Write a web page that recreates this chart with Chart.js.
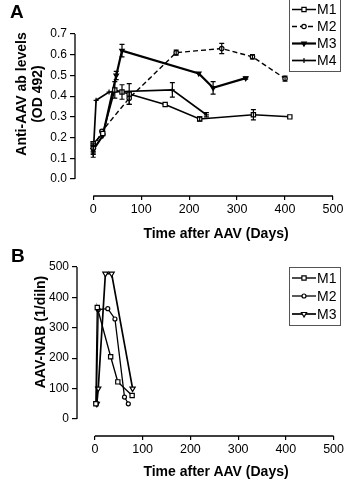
<!DOCTYPE html>
<html>
<head>
<meta charset="utf-8">
<script src="https://cdn.jsdelivr.net/npm/chart.js@4.4.1/dist/chart.umd.min.js"></script>
<style>
	body { margin: 0; background: #fff; font-family: "Liberation Sans", Arial, sans-serif; color: #000; }
	#wrap { position: relative; width: 346px; height: 482px; overflow: hidden; }
	#panelA { position: absolute; left: 0; top: 0; }
	#panelB { position: absolute; left: 0; top: 240px; }
	.letter { position: absolute; font-weight: bold; font-size: 19px; line-height: 19px; }
	.ytitle { position: absolute; font-weight: bold; font-size: 14px; line-height: 16px; white-space: nowrap; text-align: center; transform: translate(-50%, -50%) rotate(-90deg); }
	.xtitle { position: absolute; font-weight: bold; font-size: 14px; white-space: nowrap; transform: translate(-50%, -50%); }
</style>
</head>
<body>
<div id="wrap">
	<canvas id="panelA" width="346" height="240"></canvas>
	<canvas id="panelB" width="346" height="242"></canvas>
	<div class="letter" style="left:10px; top:2px;">A</div>
	<div class="letter" style="left:11px; top:246px;">B</div>
	<div class="ytitle" style="left:29px; top:94px;">Anti-AAV ab levels<br>(OD 492)</div>
	<div class="ytitle" style="left:40px; top:332px;">AAV-NAB (1/diln)</div>
	<div class="xtitle" style="left:216px; top:233px;">Time after AAV (Days)</div>
	<div class="xtitle" style="left:216px; top:471px;">Time after AAV (Days)</div>
</div>
<script>
// ---- panel A : anti-AAV antibody (OD 492) ----
var aLabels = ['M1', 'M2', 'M3', 'M4'];
var aM1Days = [0, 20, 45, 60, 75, 150, 222, 334, 410];
var aM1Vals = [0.17, 0.22, 0.43, 0.42, 0.41, 0.36, 0.29, 0.31, 0.30];
var aM1Err  = [0.01, 0, 0.04, 0.035, 0.05, 0, 0.01, 0.025, 0];
var aM2Days = [0, 18, 75, 173, 268, 332, 400];
var aM2Vals = [0.15, 0.23, 0.39, 0.61, 0.63, 0.59, 0.485];
var aM2Err  = [0.02, 0, 0.03, 0.012, 0.025, 0.01, 0.012];
var aM3Days = [0, 20, 48, 60, 220, 250, 318];
var aM3Vals = [0.14, 0.21, 0.50, 0.62, 0.51, 0.44, 0.487];
var aM3Err  = [0.02, 0, 0.02, 0.03, 0, 0.03, 0.005];
var aM4Days = [0, 6, 33, 165, 236];
var aM4Vals = [0.12, 0.38, 0.42, 0.43, 0.31];
var aM4Err  = [0.015, 0, 0, 0.035, 0.01];
var aXTicks = [0, 100, 200, 300, 400, 500];
var aYTicks = [0, 0.1, 0.2, 0.3, 0.4, 0.5, 0.6, 0.7];

// ---- panel B : AAV neutralising antibody ----
var bLabels = ['M1', 'M2', 'M3'];
var bM1Days = [2, 5, 33, 48, 78];
var bM1Vals = [50, 367, 205, 122, 77];
var bM2Days = [3, 7, 27, 42, 62, 70];
var bM2Vals = [50, 360, 363, 329, 72, 50];
var bM3Days = [4, 7, 22, 35, 79];
var bM3Vals = [50, 100, 478, 478, 100];
var bXTicks = [0, 100, 200, 300, 400, 500];
var bYTicks = [0, 100, 200, 300, 400, 500];

var FONT = '"Liberation Sans", Arial, sans-serif';

function toPoints(days, vals) {
	var pts = new Array();
	days.forEach(function(d, i) {
		pts.push({ x: d, y: vals[i] });
	});
	return pts;
}

// error bars from dataset.errors
var errorBarPlugin = {
	id: 'errorBars',
	afterDatasetsDraw: function(chart) {
		var ctx = chart.ctx;
		var ys = chart.scales.y, xs = chart.scales.x;
		ctx.save();
		ctx.strokeStyle = '#000';
		ctx.lineWidth = 1.2;
		chart.data.datasets.forEach(function(ds) {
			if (!ds.errors) return;
			ds.data.forEach(function(p, i) {
				var e = ds.errors[i];
				if (!e) return;
				var px = xs.getPixelForValue(p.x);
				var top = ys.getPixelForValue(p.y + e);
				var bot = ys.getPixelForValue(p.y - e);
				ctx.beginPath();
				ctx.moveTo(px, top); ctx.lineTo(px, bot);
				ctx.moveTo(px - 2.5, top); ctx.lineTo(px + 2.5, top);
				ctx.moveTo(px - 2.5, bot); ctx.lineTo(px + 2.5, bot);
				ctx.stroke();
			});
		});
		ctx.restore();
	}
};

// detached axis lines, only over the tick range
var axisLinePlugin = {
	id: 'axisLines',
	afterDraw: function(chart) {
		var o = chart.options.plugins.axisLines;
		var ctx = chart.ctx, xs = chart.scales.x, ys = chart.scales.y;
		ctx.save();
		ctx.strokeStyle = '#000';
		ctx.lineWidth = 1.3;
		ctx.beginPath();
		ctx.moveTo(xs.left, ys.getPixelForValue(o.yTicks[0]));
		ctx.lineTo(xs.left, ys.getPixelForValue(o.yTicks[o.yTicks.length - 1]));
		ctx.moveTo(xs.getPixelForValue(o.xTicks[0]), ys.bottom);
		ctx.lineTo(xs.getPixelForValue(o.xTicks[o.xTicks.length - 1]), ys.bottom);
		ctx.stroke();
		ctx.restore();
	}
};

// boxed legend with line samples
var boxLegendPlugin = {
	id: 'boxLegend',
	afterDraw: function(chart) {
		var o = chart.options.plugins.boxLegend;
		var ctx = chart.ctx;
		var n = chart.data.datasets.length;
		ctx.save();
		ctx.strokeStyle = '#555';
		ctx.lineWidth = 1;
		ctx.strokeRect(o.x + 0.5, o.y + 0.5, o.w, o.rowH * n + 4);
		chart.data.datasets.forEach(function(ds, i) {
			var cy = o.y + 2 + o.rowH * (i + 0.5);
			ctx.strokeStyle = '#000';
			ctx.lineWidth = ds.borderWidth;
			ctx.setLineDash(ds.borderDash || []);
			ctx.beginPath();
			ctx.moveTo(o.x + 3, cy); ctx.lineTo(o.x + 27, cy);
			ctx.stroke();
			ctx.setLineDash([]);
			ctx.fillStyle = ds.pointBackgroundColor;
			ctx.lineWidth = ds.pointBorderWidth;
			Chart.helpers.drawPoint(ctx, {
				pointStyle: ds.pointStyle, radius: ds.pointRadius,
				rotation: ds.pointRotation || 0, borderWidth: ds.pointBorderWidth
			}, o.x + 15, cy);
			ctx.fillStyle = '#000';
			ctx.font = '14px ' + FONT;
			ctx.textBaseline = 'middle';
			ctx.fillText(ds.label, o.x + 28, cy + 1);
		});
		ctx.restore();
	}
};

function makeDataset(label, pts, style) {
	var ds = {
		label: label,
		data: pts,
		borderColor: '#000',
		borderWidth: 1.5,
		pointBorderColor: '#000',
		pointBackgroundColor: '#fff',
		pointBorderWidth: 1.2,
		pointRadius: 2.5,
		fill: false,
		tension: 0
	};
	Object.keys(style).forEach(function(k) { ds[k] = style[k]; });
	return ds;
}

function makeConfig(datasets, xTicks, yTicks, yMin, yMax, xMin, yWidth, xHeight, padTop, padRight, yFmt, legend) {
	return {
		type: 'line',
		data: { datasets: datasets },
		plugins: [errorBarPlugin, axisLinePlugin, boxLegendPlugin],
		options: {
			responsive: false,
			animation: false,
			events: [],
			layout: { padding: { top: padTop, right: padRight, left: 0, bottom: 0 } },
			plugins: {
				legend: { display: false },
				tooltip: { enabled: false },
				axisLines: { xTicks: xTicks, yTicks: yTicks },
				boxLegend: legend
			},
			scales: {
				x: {
					type: 'linear',
					min: xMin, max: xTicks[xTicks.length - 1],
					afterBuildTicks: function(s) { s.ticks = xTicks.map(function(v) { return { value: v }; }); },
					afterFit: function(s) { s.height = xHeight; },
					border: { display: false },
					grid: { drawOnChartArea: false, drawTicks: true, tickLength: 4, color: '#000', lineWidth: 1.2 },
					ticks: { autoSkip: false, maxRotation: 0, color: '#000', padding: 2, font: { size: 12.5, family: FONT } }
				},
				y: {
					min: yMin, max: yMax,
					afterBuildTicks: function(s) { s.ticks = yTicks.map(function(v) { return { value: v }; }); },
					afterFit: function(s) { s.width = yWidth; },
					border: { display: false },
					grid: { drawOnChartArea: false, drawTicks: true, tickLength: 5, color: '#000', lineWidth: 1.2 },
					ticks: { color: '#000', padding: 3, font: { size: 12, family: FONT }, callback: yFmt }
				}
			}
		}
	};
}

var aDatasets = [
	makeDataset(aLabels[0], toPoints(aM1Days, aM1Vals), { errors: aM1Err, pointStyle: 'rect', pointRadius: 3 }),
	makeDataset(aLabels[1], toPoints(aM2Days, aM2Vals), { errors: aM2Err, borderDash: [5, 3], borderWidth: 1.4, pointStyle: 'circle', pointRadius: 2.2 }),
	makeDataset(aLabels[2], toPoints(aM3Days, aM3Vals), { errors: aM3Err, borderWidth: 2.2, pointStyle: 'triangle', pointRotation: 180, pointRadius: 2.6, pointBackgroundColor: '#000' }),
	makeDataset(aLabels[3], toPoints(aM4Days, aM4Vals), { errors: aM4Err, borderWidth: 1.7, pointStyle: 'cross', pointRadius: 2.5 })
];

var bDatasets = [
	makeDataset(bLabels[0], toPoints(bM1Days, bM1Vals), { borderWidth: 1.4, pointStyle: 'rect', pointRadius: 3 }),
	makeDataset(bLabels[1], toPoints(bM2Days, bM2Vals), { borderWidth: 1.3, pointStyle: 'circle', pointRadius: 2 }),
	makeDataset(bLabels[2], toPoints(bM3Days, bM3Vals), { borderWidth: 1.7, pointStyle: 'triangle', pointRotation: 180, pointRadius: 3 })
];

var chartA = new Chart(document.getElementById('panelA'), makeConfig(
	aDatasets, aXTicks, aYTicks, -0.082, 0.7, -38, 75, 44, 34, 13,
	function(v) { return v.toFixed(1); },
	{ x: 289, y: -1, w: 51, rowH: 17 }
));

var chartB = new Chart(document.getElementById('panelB'), makeConfig(
	bDatasets, bXTicks, bYTicks, -56, 500, -37.5, 77, 46, 27, 11,
	function(v) { return v; },
	{ x: 289, y: 27, w: 51, rowH: 18 }
));
</script>
</body>
</html>
